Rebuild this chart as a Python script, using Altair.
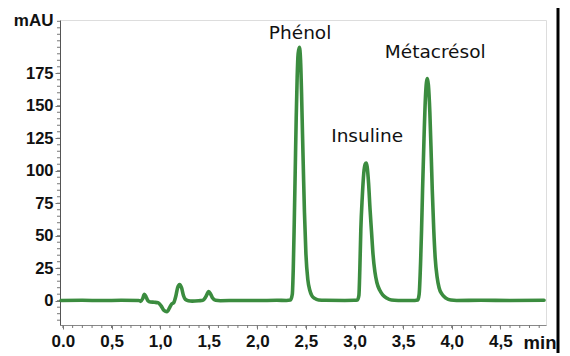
import altair as alt
import pandas as pd

# ---- chromatogram trace (time in min, signal in mAU) ----
time_min = [
    -0.02, 0.20, 0.40, 0.60, 0.78,
    0.80, 0.82, 0.838, 0.855, 0.875, 0.90, 0.94, 0.98, 1.01, 1.04, 1.07, 1.10, 1.12, 1.14,
    1.16, 1.18, 1.20, 1.22, 1.24, 1.26, 1.29, 1.33, 1.40, 1.44, 1.47, 1.50, 1.52, 1.54, 1.57,
    1.62, 1.80, 2.00, 2.20, 2.30,
    2.34, 2.36, 2.37, 2.38, 2.39, 2.40, 2.41, 2.42, 2.433, 2.445, 2.455, 2.465, 2.475, 2.485,
    2.50, 2.52, 2.54, 2.56, 2.59, 2.63, 2.70, 2.90, 3.00,
    3.03, 3.045, 3.055, 3.065, 3.08, 3.095, 3.11, 3.12, 3.13, 3.145, 3.16, 3.175, 3.19, 3.21,
    3.23, 3.26, 3.29, 3.33, 3.38, 3.45, 3.55, 3.62,
    3.65, 3.665, 3.68, 3.69, 3.70, 3.715, 3.73, 3.74, 3.75, 3.76, 3.775, 3.79, 3.80, 3.815,
    3.83, 3.85, 3.87, 3.90, 3.94, 3.99, 4.05, 4.30, 4.60, 4.95,
]
signal_mau = [
    0.2, 0.3, 0.1, 0.3, 0.2,
    -0.5, 1.5, 5.0, 3.0, 0.0, -1.0, -1.2, -1.5, -4.0, -7.5, -8.5, -5.0, -2.5, -1.5,
    3.0, 10.0, 12.5, 10.0, 4.0, 1.0, 0.0, -0.3, 0.0, 0.3, 3.0, 7.0, 5.0, 2.0, 0.3,
    0.0, 0.2, 0.1, 0.3, 0.2,
    0.5, 5.0, 25.0, 60.0, 100.0, 140.0, 172.0, 190.0, 195.0, 185.0, 160.0, 128.0, 97.0, 68.0,
    36.0, 16.0, 8.0, 4.0, 1.8, 0.6, 0.3, 0.2, 0.3,
    0.5, 4.0, 25.0, 55.0, 80.0, 98.0, 105.0, 106.0, 103.0, 90.0, 70.0, 53.0, 36.0, 22.0,
    14.0, 8.0, 4.5, 2.0, 0.5, 0.2, 0.1, 0.2,
    0.5, 5.0, 30.0, 55.0, 85.0, 125.0, 157.0, 168.0, 171.0, 166.0, 145.0, 110.0, 85.0, 55.0,
    33.0, 18.0, 10.0, 5.0, 2.0, 0.5, 0.2, 0.3, 0.2, 0.3,
]

# ---- peak annotations ----
peak_names = ["Phénol", "Insuline", "Métacrésol"]
peak_label_t = [2.44, 3.13, 3.83]
peak_label_y = [206, 127, 191]

# ---- axis ticks ----
x_major = [0.0, 0.5, 1.0, 1.5, 2.0, 2.5, 3.0, 3.5, 4.0, 4.5]
y_major = [0, 25, 50, 75, 100, 125, 150, 175]
x_minor = [round(i / 10, 1) for i in range(0, 50)]
y_minor = list(range(-15, 216, 5))

W, H = 486, 305
LABEL_FONT = "Liberation Sans"

trace = pd.DataFrame({"t": time_min, "v": signal_mau})
peaks = pd.DataFrame({"name": peak_names, "t": peak_label_t, "v": peak_label_y})
xmin_df = pd.DataFrame({"t": x_minor})
ymin_df = pd.DataFrame({"v": y_minor})

xs = alt.Scale(domain=[-0.03, 4.97], nice=False, zero=False)
ys = alt.Scale(domain=[-18.7, 216], nice=False, zero=False)

x_axis = alt.Axis(
    values=x_major,
    labelExpr="datum.value == 0 ? '0.0' : replace(format(datum.value, '.1f'), '.', ',')",
    title="min", titleX=496, titleY=23, titleAlign="right", titleBaseline="alphabetic",
    titleFont=LABEL_FONT, titleFontSize=18.5, titleFontWeight="bold", titleColor="#111",
    labelFont=LABEL_FONT, labelFontSize=17, labelFontWeight="bold", labelColor="#111",
    labelPadding=4, tickSize=4, tickColor="#777", domainColor="#888", grid=False,
    labelFlush=False, labelOverlap=False,
)
y_axis = alt.Axis(
    values=y_major,
    title="mAU", titleAngle=0, titleX=-7, titleY=5, titleAlign="right",
    titleBaseline="alphabetic", titleFont=LABEL_FONT, titleFontSize=17,
    titleFontWeight="bold", titleColor="#111",
    labelFont=LABEL_FONT, labelFontSize=16.5, labelFontWeight="bold", labelColor="#111",
    labelPadding=2, tickSize=5, tickColor="#777", domainColor="#555", grid=False,
    labelFlush=False, labelOverlap=False,
)

line = alt.Chart(trace).mark_line(
    color="#3b8c3f", strokeWidth=3.6, interpolate="monotone", strokeJoin="round", strokeCap="round"
).encode(
    x=alt.X("t:Q", scale=xs, axis=x_axis),
    y=alt.Y("v:Q", scale=ys, axis=y_axis),
)

labels = alt.Chart(peaks).mark_text(
    font="DejaVu Sans", fontSize=18.5, color="#111", baseline="middle", align="center"
).encode(
    x=alt.X("t:Q", scale=xs),
    y=alt.Y("v:Q", scale=ys),
    text="name:N",
)

x_minor_ticks = alt.Chart(xmin_df).mark_rule(color="#777", strokeWidth=1).encode(
    x=alt.X("t:Q", scale=xs),
    y=alt.value(H),
    y2=alt.value(H + 3),
)
y_minor_ticks = alt.Chart(ymin_df).mark_rule(color="#777", strokeWidth=1).encode(
    y=alt.Y("v:Q", scale=ys),
    x=alt.value(0),
    x2=alt.value(-3),
)

frame_edge = alt.Chart(pd.DataFrame({"k": [0]})).mark_rule(color="#000", strokeWidth=3).encode(
    x=alt.value(498), y=alt.value(-14), y2=alt.value(340)
)

chart = alt.layer(x_minor_ticks, y_minor_ticks, line, labels, frame_edge).properties(
    width=W, height=H,
    autosize=alt.AutoSizeParams(type="none"),
    padding={"left": 52, "top": 12, "right": 16, "bottom": 28},
).configure_view(stroke="#999", strokeWidth=1).configure(background="white")

chart.save("out.html", embed_options={"renderer": "svg", "actions": False})
